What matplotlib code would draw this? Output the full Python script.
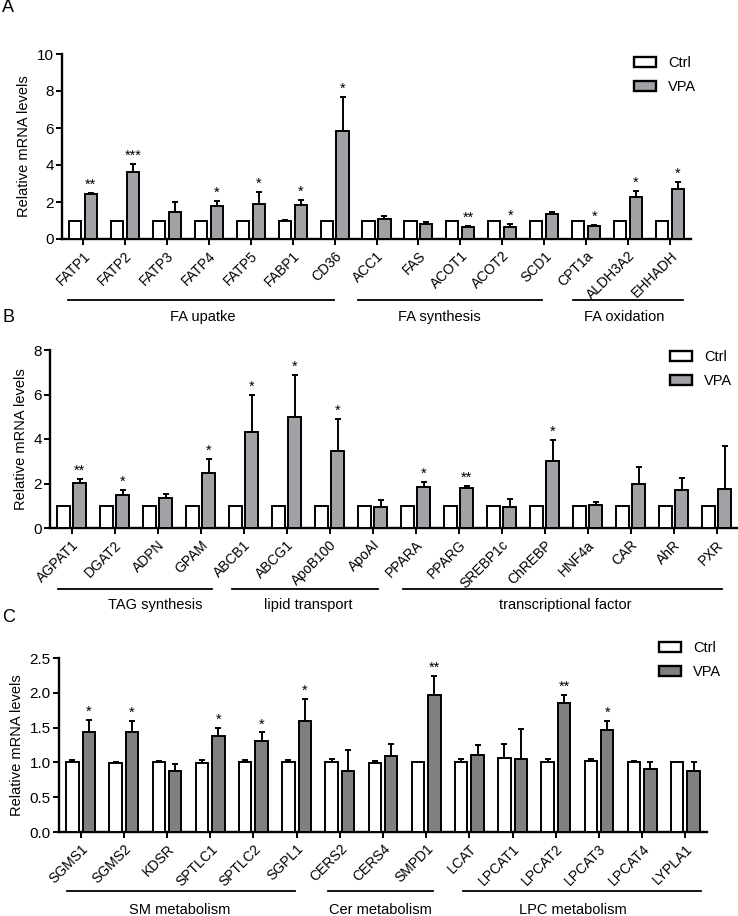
import matplotlib
matplotlib.use("Agg")
import matplotlib.pyplot as plt
import matplotlib.transforms as mtransforms
from matplotlib.patches import Patch
import numpy as np

plt.rcParams['font.family'] = ['Liberation Sans', 'DejaVu Sans']
plt.rcParams['font.size'] = 10

W, H = 738, 916

# ---------------- panel A ----------------
genes_A = ["FATP1", "FATP2", "FATP3", "FATP4", "FATP5", "FABP1", "CD36",
           "ACC1", "FAS", "ACOT1", "ACOT2", "SCD1", "CPT1a", "ALDH3A2", "EHHADH"]
ctrl_A = [1.0, 1.0, 1.0, 1.0, 1.0, 1.0, 1.0, 1.0, 1.0, 1.0, 1.0, 1.0, 1.0, 1.0, 1.0]
ctrl_err_A = [0, 0, 0, 0, 0, 0.02, 0, 0, 0, 0, 0, 0, 0, 0, 0]
vpa_A = [2.41, 3.6, 1.44, 1.77, 1.89, 1.84, 5.84, 1.08, 0.79, 0.63, 0.63, 1.37, 0.72, 2.27, 2.68]
vpa_err_A = [0.09, 0.45, 0.54, 0.3, 0.67, 0.29, 1.82, 0.16, 0.15, 0.09, 0.18, 0.09, 0.05, 0.31, 0.38]
stars_A = ["**", "***", "", "*", "*", "*", "*", "", "", "**", "*", "", "*", "*", "*"]
groups_A = ["FA upatke", "FA synthesis", "FA oxidation"]

# ---------------- panel B ----------------
genes_B = ["AGPAT1", "DGAT2", "ADPN", "GPAM", "ABCB1", "ABCG1", "ApoB100", "ApoAI",
           "PPARA", "PPARG", "SREBP1c", "ChREBP", "HNF4a", "CAR", "AhR", "PXR"]
ctrl_B = [1.0] * 16
ctrl_err_B = [0] * 16
vpa_B = [2.02, 1.49, 1.35, 2.47, 4.3, 4.98, 3.48, 0.94, 1.84, 1.81, 0.96, 2.99, 1.05, 2.0, 1.69, 1.75]
vpa_err_B = [0.19, 0.21, 0.17, 0.64, 1.68, 1.9, 1.44, 0.3, 0.24, 0.1, 0.36, 0.97, 0.1, 0.75, 0.55, 1.93]
stars_B = ["**", "*", "", "*", "*", "*", "*", "", "*", "**", "", "*", "", "", "", ""]
groups_B = ["TAG synthesis", "lipid transport", "transcriptional factor"]

# ---------------- panel C ----------------
genes_C = ["SGMS1", "SGMS2", "KDSR", "SPTLC1", "SPTLC2", "SGPL1", "CERS2", "CERS4", "SMPD1",
           "LCAT", "LPCAT1", "LPCAT2", "LPCAT3", "LPCAT4", "LYPLA1"]
ctrl_C = [1.01, 0.99, 1.0, 0.99, 1.0, 1.0, 1.0, 0.99, 1.0, 1.01, 1.07, 1.0, 1.02, 1.0, 1.0]
ctrl_err_C = [0.02, 0.01, 0.02, 0.04, 0.035, 0.035, 0.05, 0.03, 0.01, 0.04, 0.19, 0.05, 0.03, 0.02, 0.01]
vpa_C = [1.43, 1.43, 0.87, 1.38, 1.31, 1.59, 0.87, 1.09, 1.97, 1.1, 1.045, 1.85, 1.47, 0.91, 0.87]
vpa_err_C = [0.18, 0.16, 0.1, 0.12, 0.12, 0.32, 0.31, 0.17, 0.27, 0.15, 0.44, 0.12, 0.13, 0.09, 0.13]
stars_C = ["*", "*", "", "*", "*", "*", "", "", "**", "", "", "**", "*", "", ""]
groups_C = ["SM metabolism", "Cer metabolism", "LPC metabolism"]


fig = plt.figure(figsize=(W / 100, H / 100), dpi=100)


def panel(box, genes, ctrl, ctrl_err, vpa, vpa_err, stars, ymax, ystep, vcol,
          groups, spans, line_y, text_y, text_x, leg_xy, yfmt="%d"):
	l, r, t, b = box
	ax = fig.add_axes([l / W, 1 - b / H, (r - l) / W, (b - t) / H])
	n = len(genes)
	x = np.arange(n)
	ctrl = np.array(ctrl); vpa = np.array(vpa)
	ctrl_err = np.array(ctrl_err, dtype=float); vpa_err = np.array(vpa_err, dtype=float)
	off, bw = 0.19, 0.29

	ax.bar(x - off, ctrl, bw, color="white", edgecolor="black", linewidth=1.4, zorder=3)
	ax.bar(x + off, vpa, bw, color=vcol, edgecolor="black", linewidth=1.4, zorder=3)

	m = ctrl_err > 0
	ax.errorbar((x - off)[m], ctrl[m], yerr=[np.zeros(m.sum()), ctrl_err[m]], fmt="none",
	            ecolor="black", elinewidth=1.4, capsize=2.5, capthick=1.4, zorder=2)
	ax.errorbar(x + off, vpa, yerr=[np.zeros(n), vpa_err], fmt="none",
	            ecolor="black", elinewidth=1.4, capsize=2.5, capthick=1.4, zorder=2)

	for i, s in enumerate(stars):
		if s:
			ax.annotate(s, (x[i] + off, vpa[i] + vpa_err[i]), xytext=(0, 3),
			            textcoords="offset points", ha="center", va="baseline", fontsize=10.5)

	ax.set_xlim(-0.5, n - 0.5)
	ax.set_ylim(0, ymax)
	ax.set_yticks(np.arange(0, ymax + ystep / 2, ystep))
	ax.yaxis.set_major_formatter(matplotlib.ticker.FormatStrFormatter(yfmt))
	ax.set_xticks(x)
	ax.set_xticklabels(genes, rotation=45, ha="right", rotation_mode="anchor", fontsize=10)
	ax.tick_params(axis="both", direction="out", length=4, width=1.4)
	ax.tick_params(axis="x", pad=3)
	ax.tick_params(axis="y", pad=2, labelsize=11)
	for sp in ["top", "right"]:
		ax.spines[sp].set_visible(False)
	for sp in ["left", "bottom"]:
		ax.spines[sp].set_linewidth(1.7)
	ax.set_ylabel("Relative mRNA levels", fontsize=10.5, labelpad=4)

	trans = mtransforms.blended_transform_factory(ax.transData, ax.transAxes)
	for g, (x0, x1), tx in zip(groups, spans, text_x):
		ax.plot([x0, x1], [line_y, line_y], color="black", lw=1.3, transform=trans, clip_on=False)
		ax.text(tx, text_y, g, transform=trans, ha="center", va="center", fontsize=10.5)

	handles = [Patch(facecolor="white", edgecolor="black", linewidth=1.7),
	           Patch(facecolor=vcol, edgecolor="black", linewidth=1.7)]
	fig.legend(handles, ["Ctrl", "VPA"], loc="upper left",
	           bbox_to_anchor=(leg_xy[0] / W, 1 - leg_xy[1] / H), frameon=False,
	           borderpad=0, handlelength=1.5, handleheight=0.65, handletextpad=0.8,
	           labelspacing=0.65, fontsize=10.5)
	return ax


panel((62, 691, 54, 239), genes_A, ctrl_A, ctrl_err_A, vpa_A, vpa_err_A, stars_A,
      10, 2, "#a2a2a6", groups_A,
      [(-0.36, 5.98), (6.55, 10.95), (11.69, 14.31)], -0.33, -0.42,
      [2.86, 8.5, 12.9], (627, 49))

panel((50, 738, 350, 528), genes_B, ctrl_B, ctrl_err_B, vpa_B, vpa_err_B, stars_B,
      8, 2, "#a2a2a6", groups_B,
      [(-0.31, 3.27), (3.73, 7.13), (7.71, 15.13)], -0.343, -0.433,
      [1.94, 5.5, 11.48], (663, 343))

panel((59, 707, 658, 832), genes_C, ctrl_C, ctrl_err_C, vpa_C, vpa_err_C, stars_C,
      2.5, 0.5, "#808080", groups_C,
      [(-0.31, 4.96), (5.73, 8.16), (8.85, 14.36)], -0.339, -0.448,
      [2.3, 6.93, 11.4], (652, 634), yfmt="%.1f")

fig.text(2 / W, 1 - 8 / H, "A", fontsize=13, va="center", ha="left")
fig.text(2 / W, 1 - 317 / H, "B", fontsize=13, va="center", ha="left")
fig.text(2 / W, 1 - 617 / H, "C", fontsize=13, va="center", ha="left")

plt.savefig("out.png", dpi=100)
plt.close()
